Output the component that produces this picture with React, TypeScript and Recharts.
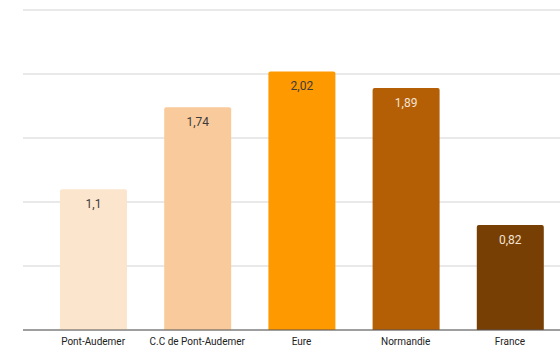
import React from 'react'
import { Bar, BarChart, CartesianGrid, Cell, LabelList, XAxis, YAxis } from 'recharts'

const categories = ['Pont-Audemer', 'C.C de Pont-Audemer', 'Eure', 'Normandie', 'France']
const values = [1.1, 1.74, 2.02, 1.89, 0.82]
const barColors = ['#fce5cd', '#f9cb9c', '#ff9900', '#b45f06', '#783f04']
const labelColors = ['#3c3c3c', '#3c3c3c', '#3c3c3c', '#f3e3d3', '#f3e3d3']
const yTicks = [0, 0.5, 1, 1.5, 2, 2.5]

const data = categories.map((name, i) => ({ name, value: values[i], labelColor: labelColors[i] }))

const fmt = (v: number) => String(v).replace('.', ',')

const renderLabel = (props: any) => {
  const { x, y, width, value, index } = props
  return (
    <text
      x={x + width / 2}
      y={y + 15}
      textAnchor="middle"
      dominantBaseline="central"
      fontSize={12}
      fill={labelColors[index]}
    >
      {fmt(value)}
    </text>
  )
}

export default function App() {
  return (
    <div
      style={{
        position: 'absolute',
        left: 0,
        top: 0,
        width: 560,
        height: 352,
        overflow: 'hidden',
        background: '#fff',
        fontFamily: 'Roboto, Arial, sans-serif',
      }}
    >
      <BarChart
        width={580}
        height={352}
        data={data}
        margin={{ top: 10, right: 18, left: 23, bottom: 0 }}
      >
        <CartesianGrid vertical={false} stroke="#e2e2e2" strokeWidth={1.5} />
        <XAxis
          dataKey="name"
          height={22}
          tickLine={false}
          axisLine={{ stroke: '#555', strokeWidth: 1 }}
          tick={{ fontSize: 10, fill: '#222' }}
          interval={0}
          padding={{ left: 18, right: 0 }}
        />
        <YAxis hide domain={[0, 2.5]} ticks={yTicks} />
        <Bar dataKey="value" barSize={67} radius={[2, 2, 0, 0]} isAnimationActive={false}>
          {data.map((d, i) => (
            <Cell key={d.name} fill={barColors[i]} />
          ))}
          <LabelList dataKey="value" content={renderLabel} />
        </Bar>
      </BarChart>
    </div>
  )
}
